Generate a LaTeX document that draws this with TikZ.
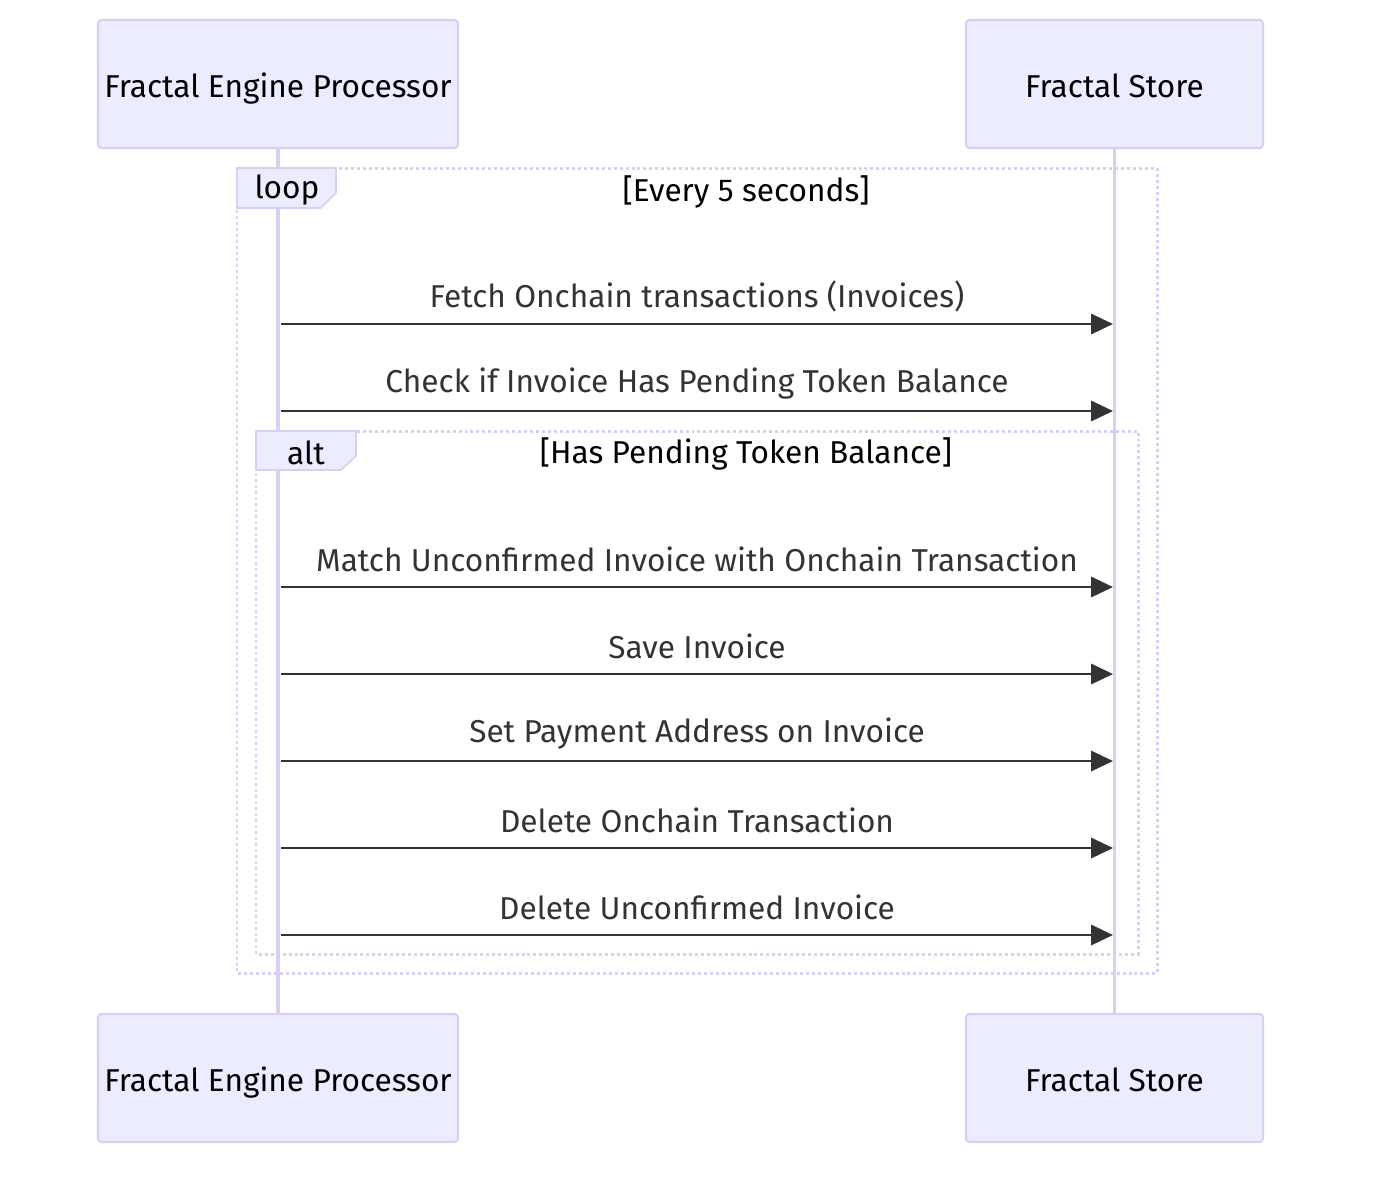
\documentclass[tikz,border=0pt]{standalone}
\usepackage{fontspec}
\setmainfont{Fira Sans}
\usetikzlibrary{positioning, arrows.meta}
\definecolor{actorfill}{HTML}{ECECFF}
\definecolor{actorline}{HTML}{DACEF3}
\definecolor{msgline}{HTML}{333333}
\tikzset{
  x=0.02cm, y=-0.02cm, % one unit is one pixel of the reference
  actor/.style={draw=actorline, fill=actorfill, line width=1.2pt, rounded corners=2pt,
    minimum height=2.56cm, text height=14.8pt, text depth=0pt,
    font=\fontsize{18}{22}\selectfont}, % participant boxes
  lifeline/.style={draw=actorline, line width=2pt},
  frame/.style={draw=actorline, line width=1.7pt, dash pattern=on 1.7pt off 1.7pt},
  tab/.style={draw=actorline, fill=actorfill, line width=0.9pt},
  msg/.style={draw=msgline, line width=1.5pt, -{Triangle[length=12.5pt,width=11.5pt]}},
  msgtext/.style={text=msgline, font=\fontsize{18}{22}\selectfont, yshift=0.55cm},
  cond/.style={font=\fontsize{18}{22}\selectfont},
}
\begin{document}
\begin{tikzpicture}
  \useasboundingbox (0,0) rectangle (1378,1178);

  % participants
  \node[actor, minimum width=7.2cm]  (fepTop) at (278,84)    {Fractal Engine Processor};
  \node[actor, minimum width=5.94cm] (fsTop)  at (1114.5,84) {Fractal Store};
  \node[actor, minimum width=7.2cm]  (fepBot) at (278,1078)    {Fractal Engine Processor};
  \node[actor, minimum width=5.94cm] (fsBot)  at (1114.5,1078) {Fractal Store};

  % lifelines
  \draw[lifeline] (fepTop) -- (fepBot);
  \draw[lifeline] (fsTop) -- (fsBot);

  % loop frame
  \draw[frame] (237,168) rectangle (1157,973);
  \draw[tab] (237,168) -- (336,168) -- (336,193) -- (321,208) -- (237,208) -- cycle;
  \node[cond] (loopLbl) at (287,190) {loop};
  \node[cond] (loopCond) at (746,192) {[Every 5 seconds]};

  % alt frame
  \draw[frame] (256,431) rectangle (1138,954);
  \draw[tab] (256,431) -- (356,431) -- (356,456) -- (341,470) -- (256,470) -- cycle;
  \node[cond] (altLbl) at (306,453) {alt};
  \node[cond] (altCond) at (746,454) {[Has Pending Token Balance]};

  % message end points on the lifelines
  \foreach \n/\y in {1/324, 2/411, 3/587, 4/674, 5/761, 6/848, 7/935} {
    \coordinate (p\n) at (281,\y);
    \coordinate (s\n) at (1113,\y);
  }

  \path
    (p1) edge[msg] node[msgtext] {Fetch Onchain transactions (Invoices)} (s1)
    (p2) edge[msg] node[msgtext] {Check if Invoice Has Pending Token Balance} (s2)
    (p3) edge[msg] node[msgtext] {Match Unconfirmed Invoice with Onchain Transaction} (s3)
    (p4) edge[msg] node[msgtext] {Save Invoice} (s4)
    (p5) edge[msg] node[msgtext] {Set Payment Address on Invoice} (s5)
    (p6) edge[msg] node[msgtext] {Delete Onchain Transaction} (s6)
    (p7) edge[msg] node[msgtext] {Delete Unconfirmed Invoice} (s7);
\end{tikzpicture}
\end{document}
